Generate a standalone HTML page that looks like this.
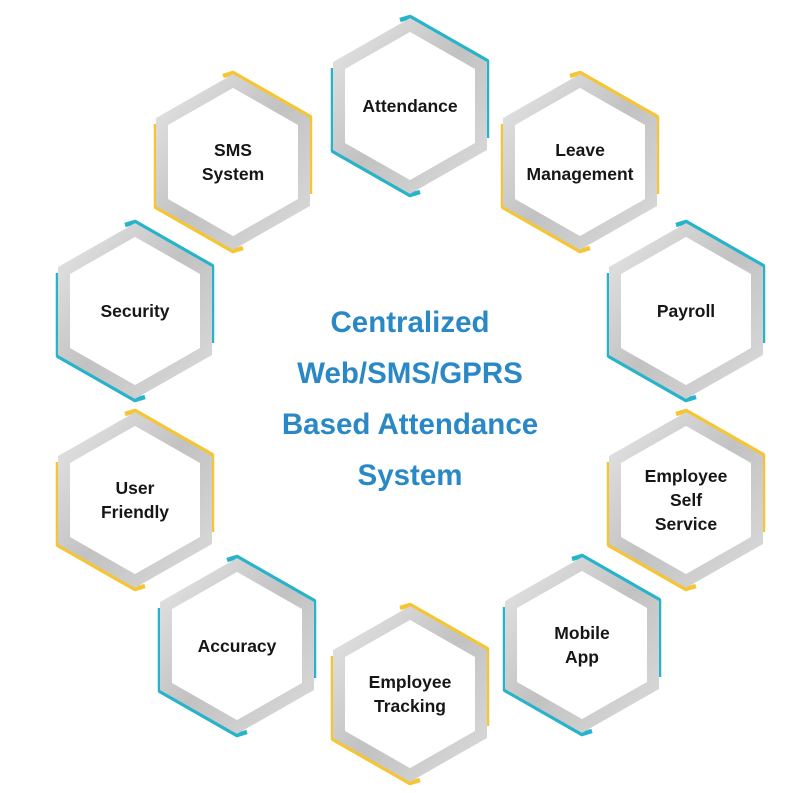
<!DOCTYPE html>
<html><head><meta charset="utf-8"><style>
html,body{margin:0;padding:0;background:#fff;}
svg{display:block}
.l{font-family:"Liberation Sans",sans-serif;font-size:17.5px;font-weight:bold;fill:#161616;text-anchor:middle;}
.t{font-family:"Liberation Sans",sans-serif;font-size:29.5px;font-weight:bold;fill:#2a88c6;text-anchor:middle;}
</style></head><body>
<svg width="800" height="793" viewBox="0 0 800 793">
<defs>
<linearGradient id="g" x1="0" y1="0" x2="1" y2="1">
<stop offset="0" stop-color="#e4e4e4"/><stop offset="0.5" stop-color="#c2c2c2"/><stop offset="1" stop-color="#dadada"/>
</linearGradient>
<g id="hex">
<polygon points="0,-81 71,-40.5 71,40.5 0,81 -71,40.5 -71,-40.5" fill="#fff" stroke="url(#g)" stroke-width="12" stroke-linejoin="miter"/>
</g>
<path id="acc" d="M -10,-86 L 0,-89 L 77,-45 L 77,32 M -77,-38 L -77,45 L 0,89 L 10,86" fill="none" stroke-width="4.5" stroke-linejoin="round"/>
</defs>
<g transform="translate(410,106)"><use href="#acc" stroke="#27b3c9"/><use href="#hex"/><text class="l" y="6">Attendance</text></g>
<g transform="translate(233,162)"><use href="#acc" stroke="#f5c533"/><use href="#hex"/><text class="l" y="-6">SMS</text><text class="l" y="18">System</text></g>
<g transform="translate(580,162)"><use href="#acc" stroke="#f5c533"/><use href="#hex"/><text class="l" y="-6">Leave</text><text class="l" y="18">Management</text></g>
<g transform="translate(135,311)"><use href="#acc" stroke="#27b3c9"/><use href="#hex"/><text class="l" y="6">Security</text></g>
<g transform="translate(686,311)"><use href="#acc" stroke="#27b3c9"/><use href="#hex"/><text class="l" y="6">Payroll</text></g>
<g transform="translate(135,500)"><use href="#acc" stroke="#f5c533"/><use href="#hex"/><text class="l" y="-6">User</text><text class="l" y="18">Friendly</text></g>
<g transform="translate(686,500)"><use href="#acc" stroke="#f5c533"/><use href="#hex"/><text class="l" y="-18">Employee</text><text class="l" y="6">Self</text><text class="l" y="30">Service</text></g>
<g transform="translate(237,646)"><use href="#acc" stroke="#27b3c9"/><use href="#hex"/><text class="l" y="6">Accuracy</text></g>
<g transform="translate(582,645)"><use href="#acc" stroke="#27b3c9"/><use href="#hex"/><text class="l" y="-6">Mobile</text><text class="l" y="18">App</text></g>
<g transform="translate(410,694)"><use href="#acc" stroke="#f5c533"/><use href="#hex"/><text class="l" y="-6">Employee</text><text class="l" y="18">Tracking</text></g>
<text class="t" x="410" y="332">Centralized</text>
<text class="t" x="410" y="383">Web/SMS/GPRS</text>
<text class="t" x="410" y="434">Based Attendance</text>
<text class="t" x="410" y="485">System</text>
</svg>
</body></html>
